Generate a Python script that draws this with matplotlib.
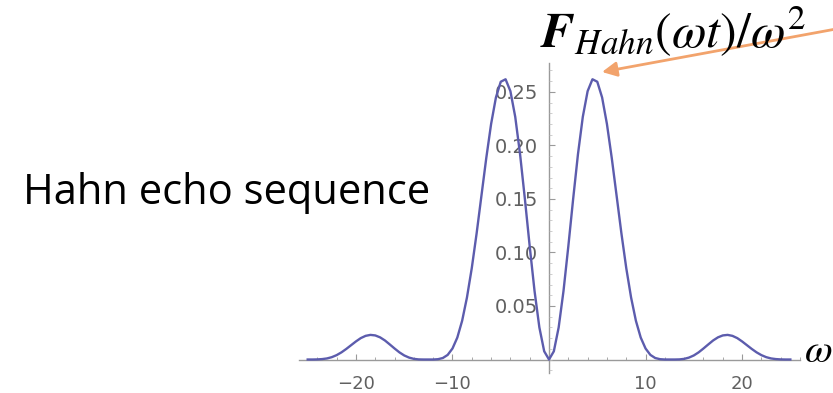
import matplotlib
matplotlib.use("Agg")
import matplotlib.pyplot as plt
from matplotlib.ticker import MultipleLocator, FixedLocator

plt.rcParams['mathtext.fontset'] = 'stix'

# ---- data ----
omega = [-25.0, -24.5, -24.0, -23.5, -23.0, -22.5, -22.0, -21.5, -21.0, -20.5,
         -20.0, -19.5, -19.0, -18.5, -18.0, -17.5, -17.0, -16.5, -16.0, -15.5,
         -15.0, -14.5, -14.0, -13.5, -13.0, -12.5, -12.0, -11.5, -11.0, -10.5,
         -10.0, -9.5, -9.0, -8.5, -8.0, -7.5, -7.0, -6.5, -6.0, -5.5,
         -5.0, -4.5, -4.0, -3.5, -3.0, -2.5, -2.0, -1.5, -1.0, -0.5,
         0.0,
         0.5, 1.0, 1.5, 2.0, 2.5, 3.0, 3.5, 4.0, 4.5, 5.0,
         5.5, 6.0, 6.5, 7.0, 7.5, 8.0, 8.5, 9.0, 9.5, 10.0,
         10.5, 11.0, 11.5, 12.0, 12.5, 13.0, 13.5, 14.0, 14.5, 15.0,
         15.5, 16.0, 16.5, 17.0, 17.5, 18.0, 18.5, 19.0, 19.5, 20.0,
         20.5, 21.0, 21.5, 22.0, 22.5, 23.0, 23.5, 24.0, 24.5, 25.0]

f_hahn = [0.0000, 0.0000, 0.0001, 0.0004, 0.0010, 0.0022, 0.0041, 0.0067, 0.0099, 0.0134,
          0.0169, 0.0200, 0.0221, 0.0230, 0.0225, 0.0207, 0.0178, 0.0141, 0.0103, 0.0067,
          0.0038, 0.0018, 0.0006, 0.0001, 0.0000, 0.0000, 0.0000, 0.0003, 0.0014, 0.0043,
          0.0103, 0.0205, 0.0362, 0.0580, 0.0855, 0.1178, 0.1531, 0.1882, 0.2200, 0.2448,
          0.2595, 0.2618, 0.2507, 0.2267, 0.1919, 0.1500, 0.1057, 0.0640, 0.0300, 0.0077,
          0.0000,
          0.0077, 0.0300, 0.0640, 0.1057, 0.1500, 0.1919, 0.2267, 0.2507, 0.2618, 0.2595,
          0.2448, 0.2200, 0.1882, 0.1531, 0.1178, 0.0855, 0.0580, 0.0362, 0.0205, 0.0103,
          0.0043, 0.0014, 0.0003, 0.0000, 0.0000, 0.0000, 0.0001, 0.0006, 0.0018, 0.0038,
          0.0067, 0.0103, 0.0141, 0.0178, 0.0207, 0.0225, 0.0230, 0.0221, 0.0200, 0.0169,
          0.0134, 0.0099, 0.0067, 0.0041, 0.0022, 0.0010, 0.0004, 0.0001, 0.0000, 0.0000]

x_ticks = [-20, -10, 10, 20]
x_tick_labels = ['\u221220', '\u221210', '10', '20']
y_ticks = [0.05, 0.10, 0.15, 0.20, 0.25]
y_tick_labels = ['0.05', '0.10', '0.15', '0.20', '0.25']

W, H = 833, 393
fig = plt.figure(figsize=(W / 100, H / 100), dpi=100)
ax = fig.add_axes([299 / W, 20 / H, 501 / W, 310 / H])
ax.set_xlim(-25.9, 26.0)
ax.set_ylim(-0.0126, 0.277)

axis_col = '#9a9a9a'
label_col = '#606060'
for s in ['top', 'right']:
    ax.spines[s].set_visible(False)
ax.spines['left'].set_position(('data', 0))
ax.spines['bottom'].set_position(('data', 0))
for s in ['left', 'bottom']:
    ax.spines[s].set_color(axis_col)
    ax.spines[s].set_linewidth(1.0)
    ax.spines[s].set_zorder(1)

ax.xaxis.set_major_locator(FixedLocator(x_ticks))
ax.set_xticklabels(x_tick_labels)
ax.xaxis.set_minor_locator(MultipleLocator(2))
ax.yaxis.set_major_locator(FixedLocator(y_ticks))
ax.set_yticklabels(y_tick_labels)
ax.yaxis.set_minor_locator(MultipleLocator(0.01))

ax.tick_params(axis='x', which='major', direction='in', length=4, width=0.8,
               color=axis_col, labelcolor=label_col, labelsize=13, pad=11)
ax.tick_params(axis='x', which='minor', direction='in', length=2.5, width=0.6,
               color=axis_col)
ax.tick_params(axis='y', which='major', direction='in', length=4, width=0.8,
               color=axis_col, labelcolor=label_col, labelsize=14, pad=8)
ax.tick_params(axis='y', which='minor', direction='in', length=2, width=0.5,
               color='#bbbbbb')

ax.plot(omega, f_hahn, color='#5c5cad', lw=1.7, zorder=3, clip_on=False)

# annotations
fig.text(23 / W, 1 - 193 / H, 'Hahn echo sequence', fontsize=30,
         family='Open Sans', va='center', ha='left', color='black')
fig.text(540 / W, 1 - 48 / H, r'$\mathbfit{F}_{Hahn}(\omega t)/\omega^2$',
         fontsize=36, va='baseline', ha='left', color='black')
fig.text(804 / W, 1 - 362 / H, r'$\omega$', fontsize=29, va='baseline',
         ha='left', color='black')

ax.annotate('', xy=(602, H - 72), xytext=(836, H - 29),
            xycoords='figure pixels', textcoords='figure pixels',
            annotation_clip=False,
            arrowprops=dict(arrowstyle='-|>', color='#f2a36c', lw=2,
                            mutation_scale=22, shrinkA=0, shrinkB=0))

fig.savefig('out.png', dpi=100)
